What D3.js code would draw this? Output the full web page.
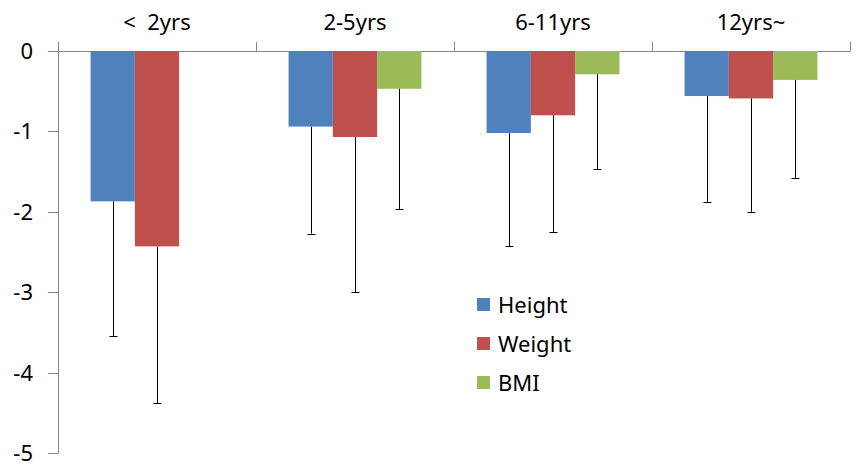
<!DOCTYPE html>
<html><head><meta charset="utf-8">
<script src="https://cdn.jsdelivr.net/npm/d3@7"></script>
<style>body{margin:0;background:#fff}svg{display:block}text{font-family:"Noto Sans","Open Sans",sans-serif;fill:#000}</style>
</head><body><svg id="c" width="865" height="476"></svg>
<script>
const categories = ["< 2yrs", "2-5yrs", "6-11yrs", "12yrs~"];
const seriesNames = ["Height", "Weight", "BMI"];
const heightMean = [-1.87, -0.94, -1.02, -0.56];
const weightMean = [-2.43, -1.07, -0.80, -0.59];
const bmiMean = [null, -0.47, -0.29, -0.36];
const heightLow = [-3.55, -2.27, -2.43, -1.88];
const weightLow = [-4.38, -3.00, -2.25, -2.00];
const bmiLow = [null, -1.97, -1.47, -1.58];
const yTicks = [0, -1, -2, -3, -4, -5];
const colors = ["#4F81BD", "#C0504D", "#9BBB59"];

const means = [heightMean, weightMean, bmiMean];
const lows = [heightLow, weightLow, bmiLow];

const svg = d3.select("#c");
const mLeft = 58, mRight = 850, mTop = 51, mBottom = 453;
const x = d3.scaleBand().domain(categories).range([mLeft, mRight]).paddingInner(0).paddingOuter(0);
const y = d3.scaleLinear().domain([0, -5]).range([mTop, mBottom]);
const inner = d3.scaleBand().domain(seriesNames).range([0, x.bandwidth()]).paddingOuter(0.735).paddingInner(0);
const axisColor = "#868686";

// y axis
svg.append("line").attr("x1", mLeft + 0.5).attr("x2", mLeft + 0.5).attr("y1", 42).attr("y2", mBottom + 0.5)
  .attr("stroke", axisColor).attr("stroke-width", 1);
yTicks.forEach(t => {
  const yy = Math.round(y(t)) + 0.5;
  svg.append("line").attr("x1", 48).attr("x2", mLeft).attr("y1", yy).attr("y2", yy).attr("stroke", axisColor);
  svg.append("text").attr("x", 33).attr("y", yy).attr("dy", "0.36em").attr("text-anchor", "end")
    .attr("font-size", 22).text(t === 0 ? "0" : "-" + Math.abs(t));
});
// x axis at zero
svg.append("line").attr("x1", mLeft).attr("x2", mRight + 0.5).attr("y1", Math.round(y(0)) + 0.5).attr("y2", Math.round(y(0)) + 0.5)
  .attr("stroke", axisColor);
categories.concat([null]).forEach(c => {
  const xx = Math.round(c === null ? mRight : x(c)) + 0.5;
  svg.append("line").attr("x1", xx).attr("x2", xx).attr("y1", 42).attr("y2", Math.round(y(0))).attr("stroke", axisColor);
});
categories.forEach(c => {
  svg.append("text").attr("x", x(c) + x.bandwidth() / 2).attr("y", 30).attr("text-anchor", "middle")
    .attr("font-size", 22).attr("xml:space", "preserve").text(c.replace("< ", "<\u00a0 "));
});

// bars
seriesNames.forEach((s, si) => {
  categories.forEach((c, ci) => {
    const v = means[si][ci];
    if (v === null) return;
    const x0 = x(c) + inner(s);
    svg.append("rect").attr("x", x0).attr("y", y(0)).attr("width", inner.bandwidth())
      .attr("height", y(v) - y(0)).attr("fill", colors[si]);
  });
});
// error bars
seriesNames.forEach((s, si) => {
  categories.forEach((c, ci) => {
    const v = means[si][ci], lo = lows[si][ci];
    if (v === null) return;
    const cx = Math.round(x(c) + inner(s) + inner.bandwidth() / 2) + 0.5;
    svg.append("line").attr("x1", cx).attr("x2", cx).attr("y1", y(v)).attr("y2", y(lo)).attr("stroke", "#000");
    svg.append("line").attr("x1", cx - 4).attr("x2", cx + 4).attr("y1", Math.round(y(lo)) + 0.5).attr("y2", Math.round(y(lo)) + 0.5).attr("stroke", "#000");
  });
});

// legend
seriesNames.forEach((s, i) => {
  const ly = 305 + i * 39;
  svg.append("rect").attr("x", 477).attr("y", ly - 7).attr("width", 13).attr("height", 13).attr("fill", colors[i]);
  svg.append("text").attr("x", 498).attr("y", ly).attr("dy", "0.36em").attr("font-size", 22).text(s);
});
</script></body></html>
